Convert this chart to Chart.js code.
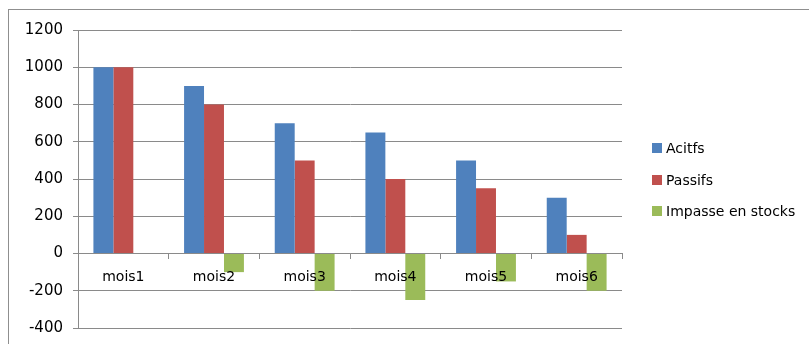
<!DOCTYPE html>
<html>
<head>
<meta charset="utf-8">
<script src="https://cdn.jsdelivr.net/npm/chart.js@4"></script>
<style>
  html, body { margin: 0; padding: 0; background: #ffffff; }
  body { width: 809px; height: 344px; position: relative; overflow: hidden; }
  #frame { position: absolute; left: 8px; top: 9px; width: 900px; height: 400px;
           border-left: 1px solid #8f8f8f; border-top: 1px solid #8f8f8f; }
  #chart { position: absolute; left: 0; top: 0; }
  #legend { position: absolute; left: 652px; top: 140px; font-family: "DejaVu Sans", sans-serif;
            font-size: 14px; color: #000; }
  .item { position: absolute; left: 0; white-space: nowrap; height: 16px; line-height: 16px; }
  .swatch { position: absolute; left: 0; top: 3px; width: 10px; height: 10px; }
  .text { position: absolute; left: 14px; top: 0; }
</style>
</head>
<body>
<div id="frame"></div>
<canvas id="chart" width="809" height="344"></canvas>
<div id="legend"></div>
<script>
// Monthly figures
const categories = ['mois1', 'mois2', 'mois3', 'mois4', 'mois5', 'mois6'];
const seriesNames = ['Acitfs', 'Passifs', 'Impasse en stocks'];
const acitfs  = [1000, 900, 700, 650, 500, 300];
const passifs = [1000, 800, 500, 400, 350, 100];
const impasse = [0, -100, -200, -250, -150, -200];
const yMin = -400, yMax = 1200, yStep = 200;

const palette = ['#4F81BD', '#C0504D', '#9BBB59'];
const gridGray = '#8a8a8a';
const fontFamily = '"DejaVu Sans", sans-serif';

const seriesValues = [acitfs, passifs, impasse];
const datasets = seriesValues.map((vals, i) => ({
  label: seriesNames[i],
  data: vals,
  backgroundColor: palette[i],
  borderWidth: 0,
  categoryPercentage: 0.66,
  barPercentage: 1.0
}));

new Chart(document.getElementById('chart'), {
  type: 'bar',
  data: { labels: categories, datasets },
  options: {
    responsive: false,
    devicePixelRatio: 1,
    animation: false,
    layout: { padding: { left: 8, top: 30, right: 187, bottom: 16 } },
    plugins: { legend: { display: false }, tooltip: { enabled: false } },
    scales: {
      x: {
        position: { y: 0 },
        offset: true,
        afterFit: (scale) => { scale.height = 0; scale.paddingTop = 0; scale.paddingBottom = 0; },
        grid: { offset: true, drawOnChartArea: false, drawTicks: true, tickLength: 5,
                color: gridGray, lineWidth: 1 },
        border: { display: true, color: gridGray, width: 1, z: 1 },
        ticks: { z: 1, color: '#000', font: { family: fontFamily, size: 14 }, padding: 10.5,
                 maxRotation: 0 }
      },
      y: {
        min: yMin,
        max: yMax,
        afterFit: (scale) => { scale.width = 70; scale.paddingTop = 0; scale.paddingBottom = 0; },
        grid: { color: gridGray, lineWidth: 1, drawTicks: true, tickLength: 5 },
        border: { display: true, color: gridGray, width: 1 },
        ticks: { stepSize: yStep, color: '#000', font: { family: fontFamily, size: 15 }, padding: 10,
                 callback: (v) => String(v) }
      }
    }
  }
});

// Legend entries, one per series
const legend = document.getElementById('legend');
seriesNames.forEach((name, i) => {
  const item = document.createElement('div');
  item.className = 'item';
  item.style.top = (i * 31.5) + 'px';
  const sw = document.createElement('span');
  sw.className = 'swatch';
  sw.style.background = palette[i];
  const tx = document.createElement('span');
  tx.className = 'text';
  tx.textContent = name;
  item.appendChild(sw);
  item.appendChild(tx);
  legend.appendChild(item);
});
</script>
</body>
</html>
